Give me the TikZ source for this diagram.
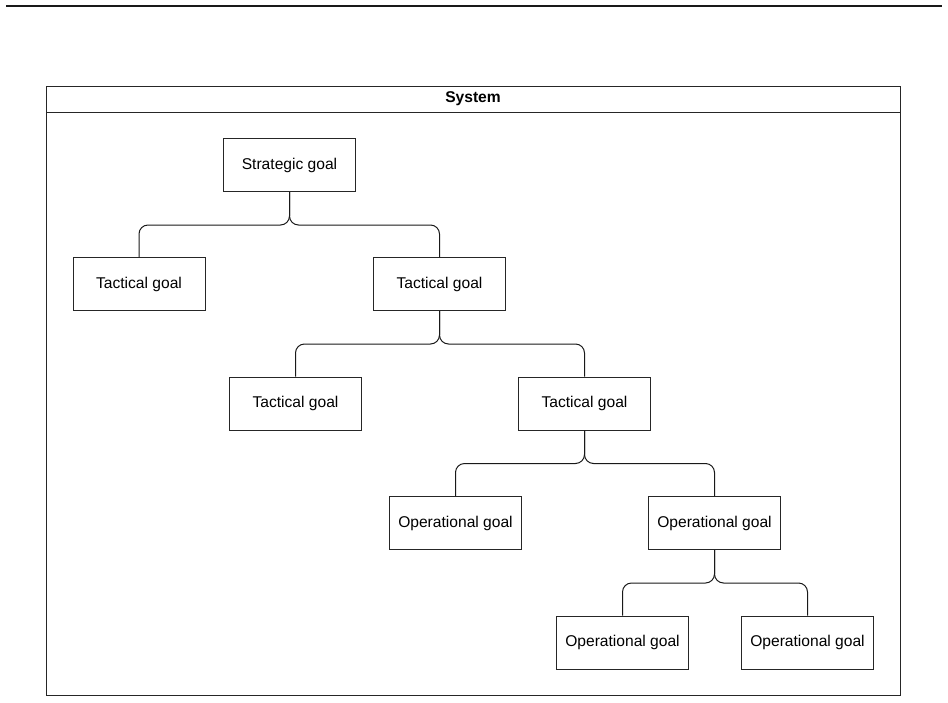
\documentclass[tikz,border=0pt]{standalone}
\usepackage{fontspec}
\setmainfont{Liberation Sans}
\begin{document}
\begin{tikzpicture}[x=1pt,y=-1pt,
  goal/.style={draw=black!85,line width=1pt,fill=white,minimum width=132pt,minimum height=53pt,inner sep=0pt,font=\fontsize{15.6}{18}\selectfont},
  conn/.style={draw=black!90,line width=1pt,rounded corners=9pt},
  frame/.style={draw=black!85,line width=1pt}]
\useasboundingbox (0,0) rectangle (948,702);
\draw[line width=1.4pt,black!90] (6,6) coordinate (l1) -- (942,6) coordinate (l2);
% container
\node[frame,minimum width=854pt,minimum height=609pt,inner sep=0pt,anchor=north west] (sys) at (46,85.5) {};
\coordinate (hl) at (46,112);
\coordinate (hr) at (900,112);
\draw[frame] (hl) -- (hr);
\node[font=\fontsize{15.6}{18}\selectfont\bfseries] (title) at (473,99) {System};
% goals
\node[goal] (S) at (289.5,165) {Strategic goal};
\node[goal] (T1) at (139,284) {Tactical goal};
\node[goal] (T2) at (439.5,284) {Tactical goal};
\node[goal] (T3) at (295.5,403.5) {Tactical goal};
\node[goal] (T4) at (584.5,403.5) {Tactical goal};
\node[goal] (O1) at (455.5,523) {Operational goal};
\node[goal] (O2) at (714.5,523) {Operational goal};
\node[goal] (O3) at (622.5,642.5) {Operational goal};
\node[goal] (O4) at (807.5,642.5) {Operational goal};
% connectors
\draw[conn] (S.south) -- ++(0,33) -| (T1.north);
\draw[conn] (S.south) -- ++(0,33) -| (T2.north);
\draw[conn] (T2.south) -- ++(0,33) -| (T3.north);
\draw[conn] (T2.south) -- ++(0,33) -| (T4.north);
\draw[conn] (T4.south) -- ++(0,33) -| (O1.north);
\draw[conn] (T4.south) -- ++(0,33) -| (O2.north);
\draw[conn] (O2.south) -- ++(0,33) -| (O3.north);
\draw[conn] (O2.south) -- ++(0,33) -| (O4.north);
\end{tikzpicture}
\end{document}
